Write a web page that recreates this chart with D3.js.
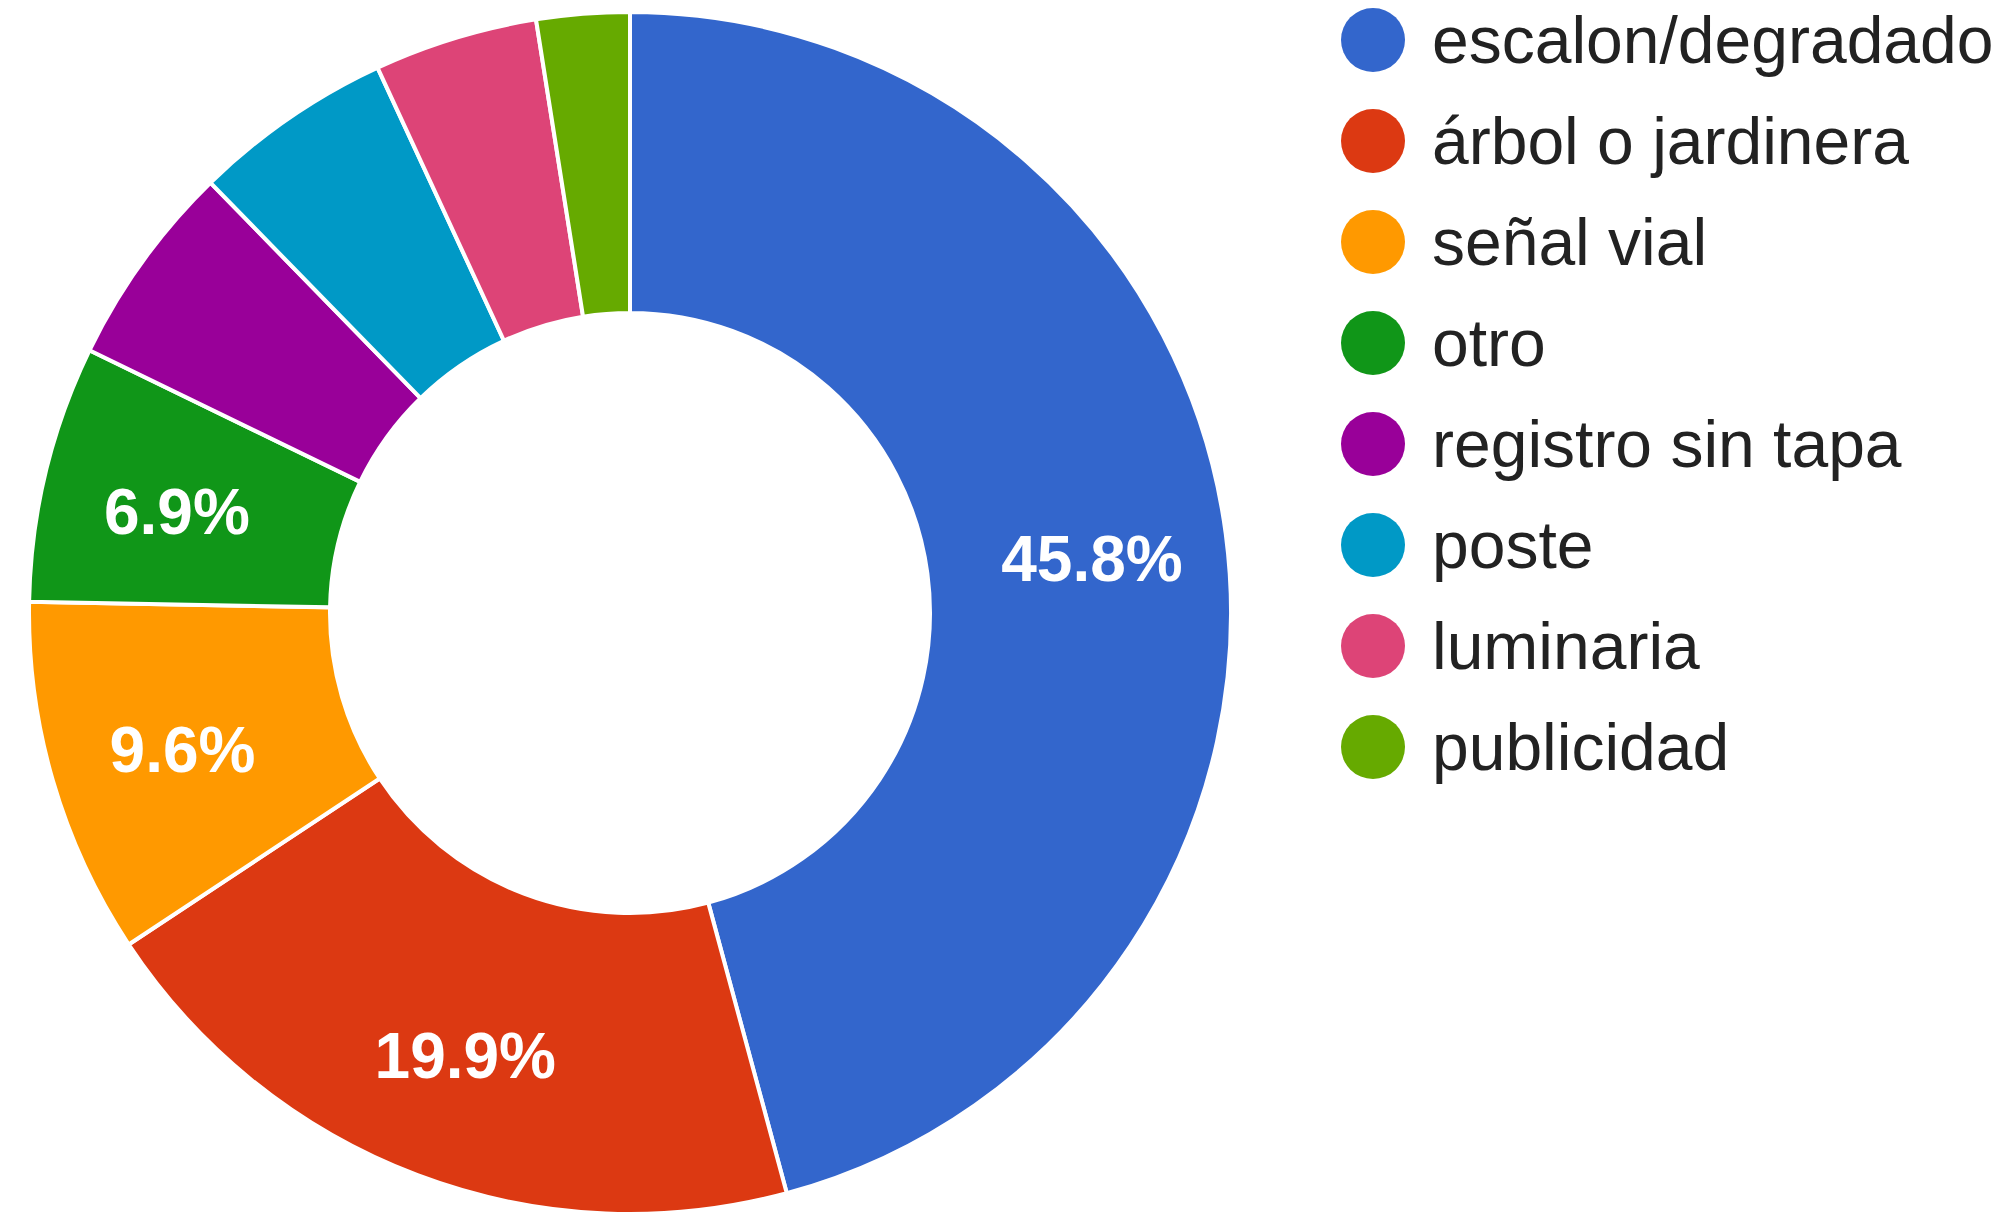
<!DOCTYPE html>
<html lang="es">
<head>
<meta charset="utf-8">
<script src="https://cdn.jsdelivr.net/npm/d3@7"></script>
<style>
  html, body { margin: 0; padding: 0; background: #fff; }
  svg { display: block; }
  .slice { stroke: #fff; stroke-width: 4px; }
  .pct { fill: #fff; font-family: Arial, "Liberation Sans", sans-serif; font-size: 64px; font-weight: bold; text-anchor: middle; }
  .legend text { fill: #222; font-family: Arial, "Liberation Sans", sans-serif; font-size: 66px; }
</style>
</head>
<body>
<div id="chart"></div>
<script>
var width = 2006, height = 1219;

var categories = ["escalon/degradado", "árbol o jardinera", "señal vial", "otro",
                  "registro sin tapa", "poste", "luminaria", "publicidad"];
var values = [45.8, 19.9, 9.6, 6.9, 5.5, 5.4, 4.4, 2.5];
var colors = ["#3366cc", "#dc3912", "#ff9900", "#109618",
              "#990099", "#0099c6", "#dd4477", "#66aa00"];

var cx = 630, cy = 613, outerR = 601, innerR = 300;

var svg = d3.select("#chart").append("svg")
  .attr("width", width)
  .attr("height", height);

var pie = d3.pie().sort(null).value(function(d) { return d; });
var arcs = pie(values);

var arc = d3.arc().innerRadius(innerR).outerRadius(outerR);
// labels sit a bit outside the middle of the ring
var labelR = 466;
var labelArc = d3.arc().innerRadius(labelR).outerRadius(labelR);

var g = svg.append("g").attr("transform", "translate(" + cx + "," + cy + ")");

g.selectAll(".slice")
  .data(arcs)
  .enter()
  .append("path")
  .attr("class", "slice")
  .attr("fill", function(d, i) { return colors[i]; })
  .attr("d", arc);

// google hides the label on slices that are too thin for it
g.selectAll(".pct")
  .data(arcs.filter(function(d) { return d.value >= 6; }))
  .enter()
  .append("text")
  .attr("class", "pct")
  .attr("transform", function(d) { return "translate(" + labelArc.centroid(d) + ")"; })
  .attr("dy", "0.46em")
  .text(function(d) { return d3.format(".1f")(d.value) + "%"; });

// legend
var legendY = d3.scalePoint()
  .domain(categories)
  .range([40, 747]);

var legend = svg.append("g").attr("class", "legend");

var row = legend.selectAll(".row")
  .data(categories)
  .enter()
  .append("g")
  .attr("class", "row")
  .attr("transform", function(d) { return "translate(1373," + legendY(d) + ")"; });

row.append("circle")
  .attr("r", 32)
  .attr("fill", function(d, i) { return colors[i]; });

row.append("text")
  .attr("x", 59)
  .attr("y", 23)
  .text(function(d) { return d; });
</script>
</body>
</html>
